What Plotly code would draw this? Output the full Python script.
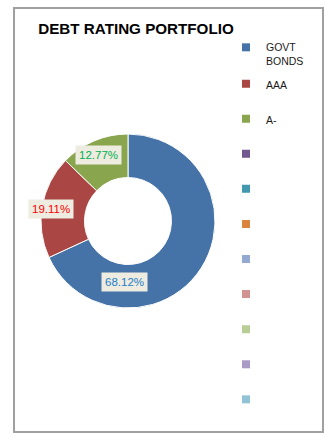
import math
import plotly.graph_objects as go

# Portfolio composition by debt rating (percent of total)
categories = ["GOVT BONDS", "AAA", "A-", "", "", "", "", "", "", "", ""]
shares = [68.12, 19.11, 12.77, 0, 0, 0, 0, 0, 0, 0, 0]

# Series palette (one colour per category) and data-label text colours
colors = ["#4572A7", "#AA4643", "#89A54E", "#71588F", "#4198AF", "#DB843D",
          "#93A9CF", "#D19392", "#B9CD96", "#A99BC6", "#92C3D5"]
label_colors = ["#1F7CC8", "#FF0000", "#00B050"]

W, H = 326, 433
cx, cy, R = 128, 221, 87          # donut centre / outer radius in pixels
HOLE = 0.5

TEXT_FONT = "Liberation Sans, Arial, sans-serif"
LABEL_FONT = "Liberation Sans, Arial, sans-serif"

# Label placement per slice: (angle shift from slice mid-angle in degrees, radius fraction)
label_place = [(60.7, 0.70), (-0.6, 0.90), (-1.2, 0.83)]

drawn = [(c, v, col) for c, v, col in zip(categories, shares, colors) if v > 0]

fig = go.Figure()
fig.add_trace(go.Pie(
    labels=[d[0] for d in drawn],
    values=[d[1] for d in drawn],
    hole=HOLE,
    sort=False,
    direction="clockwise",
    rotation=0,
    textinfo="none",
    hoverinfo="label+percent",
    showlegend=False,
    marker=dict(colors=[d[2] for d in drawn], line=dict(color="white", width=1)),
    domain=dict(x=[(cx - R) / W, (cx + R) / W],
                y=[1 - (cy + R) / H, 1 - (cy - R) / H]),
))

# Percentage labels on tan boxes, placed from the slice angles
total = sum(d[1] for d in drawn)
start = 0.0
for i, (name, val, _) in enumerate(drawn):
    sweep = val / total * 360.0
    shift, frac = label_place[i]
    ang = math.radians(start + sweep / 2 + shift)
    x = cx + frac * R * math.sin(ang)
    y = cy - frac * R * math.cos(ang)
    fig.add_annotation(
        x=x / W, y=1 - y / H, xref="paper", yref="paper",
        xanchor="center", yanchor="middle", showarrow=False,
        text=f"{val:.2f}%",
        font=dict(family=LABEL_FONT, size=11.5, color=label_colors[i]),
        bgcolor="#EEECE1", borderpad=3,
    )
    start += sweep

# Legend entries: one small legend per category, stacked down the right side
legend_layout = {}
for i, (name, col) in enumerate(zip(categories, colors)):
    key = "legend" if i == 0 else f"legend{i + 1}"
    yc = 47 if i == 0 else 83.3 + 35.08 * (i - 1)
    fig.add_trace(go.Scatter(
        x=[None], y=[None], mode="markers",
        name=name.replace(" ", "<br>"),
        marker=dict(symbol="square", size=8, color=col, line=dict(width=0)),
        legend=key, showlegend=True, hoverinfo="skip",
    ))
    legend_layout[key] = dict(
        x=226 / W, y=1 - (yc - 13) / H, xanchor="left", yanchor="top",
        valign="top", bgcolor="rgba(0,0,0,0)", borderwidth=0,
        font=dict(family=TEXT_FONT, size=10.5, color="#1a1a1a"),
    )

fig.update_layout(
    width=W, height=H,
    margin=dict(l=0, r=0, t=0, b=0),
    paper_bgcolor="white", plot_bgcolor="white",
    xaxis=dict(visible=False), yaxis=dict(visible=False),
    title=dict(text="<b>DEBT RATING PORTFOLIO</b>",
               x=136 / W, y=1 - 28.5 / H, xref="paper", yref="paper",
               xanchor="center", yanchor="middle",
               font=dict(family=TEXT_FONT, size=15.2, color="#000000")),
    shapes=[dict(type="rect", xref="paper", yref="paper",
                 x0=14 / W, x1=323 / W, y0=1 - 432 / H, y1=1 - 8 / H,
                 line=dict(color="#a0a0a0", width=2), fillcolor="rgba(0,0,0,0)")],
    **legend_layout,
)

fig.write_html("out.html")
